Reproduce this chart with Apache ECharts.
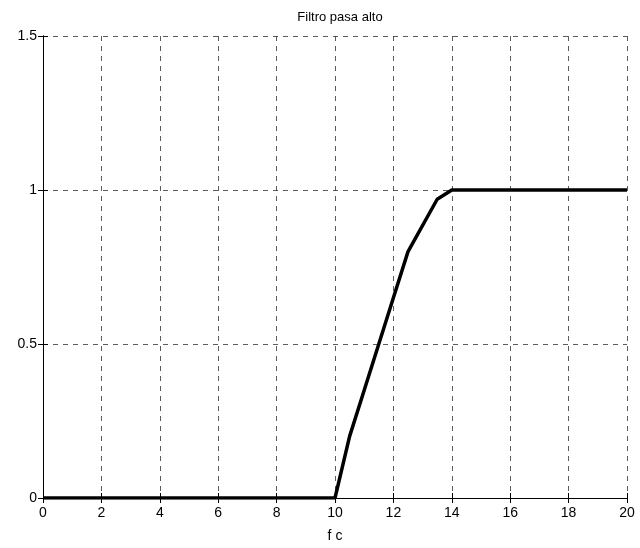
<!DOCTYPE html>
<html>
<head>
<meta charset="utf-8">
<script src="https://cdn.jsdelivr.net/npm/echarts@6/dist/echarts.min.js"></script>
<style>
  html, body { margin: 0; padding: 0; background: #fff; }
  #chart { width: 640px; height: 548px; }
</style>
</head>
<body>
<div id="chart"></div>
<script>
// respuesta del filtro pasa alto
const freq = [0, 10, 10.5, 11, 11.5, 12, 12.5, 13.5, 14, 20];
const gain = [0, 0, 0.2, 0.35, 0.5, 0.65, 0.8, 0.97, 1, 1];
const xTicks = [0, 2, 4, 6, 8, 10, 12, 14, 16, 18, 20];
const yTicks = [0, 0.5, 1, 1.5];

const font = 'Liberation Sans, Arial, sans-serif';
const points = freq.map((f, i) => [f, gain[i]]);

const chart = echarts.init(document.getElementById('chart'), null, {renderer: 'canvas'});

const gridLine = {show: true, lineStyle: {color: '#333', type: [5, 5], width: 0.8}};
const axisLine = {show: true, lineStyle: {color: '#000', width: 1}};
const tick = {show: true, inside: true, length: 5, lineStyle: {color: '#000'}};

chart.setOption({
    animation: false,
    backgroundColor: '#fff',
    title: {
        text: 'Filtro pasa alto',
        left: 335, top: 6, textAlign: 'center',
        textStyle: {fontFamily: font, fontSize: 13, fontWeight: 'normal', color: '#000'}
    },
    grid: {left: 43, right: 13, top: 36, bottom: 49},
    xAxis: [{
        type: 'value', min: 0, max: 20, interval: 2,
        name: 'f c', nameLocation: 'middle', nameGap: 31,
        nameTextStyle: {fontFamily: font, fontSize: 14, color: '#000'},
        axisLine: axisLine,
        axisTick: tick,
        axisLabel: {fontFamily: font, fontSize: 14, color: '#000', margin: 8,
            formatter: v => xTicks.includes(v) ? String(v) : ''},
        splitLine: gridLine
    }, {
        type: 'value', min: 0, max: 20, interval: 2, position: 'top',
        axisLine: axisLine,
        axisTick: tick,
        axisLabel: {show: false}, splitLine: {show: false}
    }],
    yAxis: [{
        type: 'value', min: 0, max: 1.5, interval: 0.5,
        axisLine: axisLine,
        axisTick: tick,
        axisLabel: {fontFamily: font, fontSize: 14, color: '#000', margin: 6,
            formatter: v => yTicks.includes(v) ? String(v) : ''},
        splitLine: gridLine
    }, {
        type: 'value', min: 0, max: 1.5, interval: 0.5, position: 'right',
        axisLine: axisLine,
        axisTick: tick,
        axisLabel: {show: false}, splitLine: {show: false}
    }],
    series: [{
        type: 'line',
        data: points,
        showSymbol: false,
        lineStyle: {color: '#000', width: 3.5},
        z: 5
    }]
});

window.addEventListener('resize', () => chart.resize());
</script>
</body>
</html>
